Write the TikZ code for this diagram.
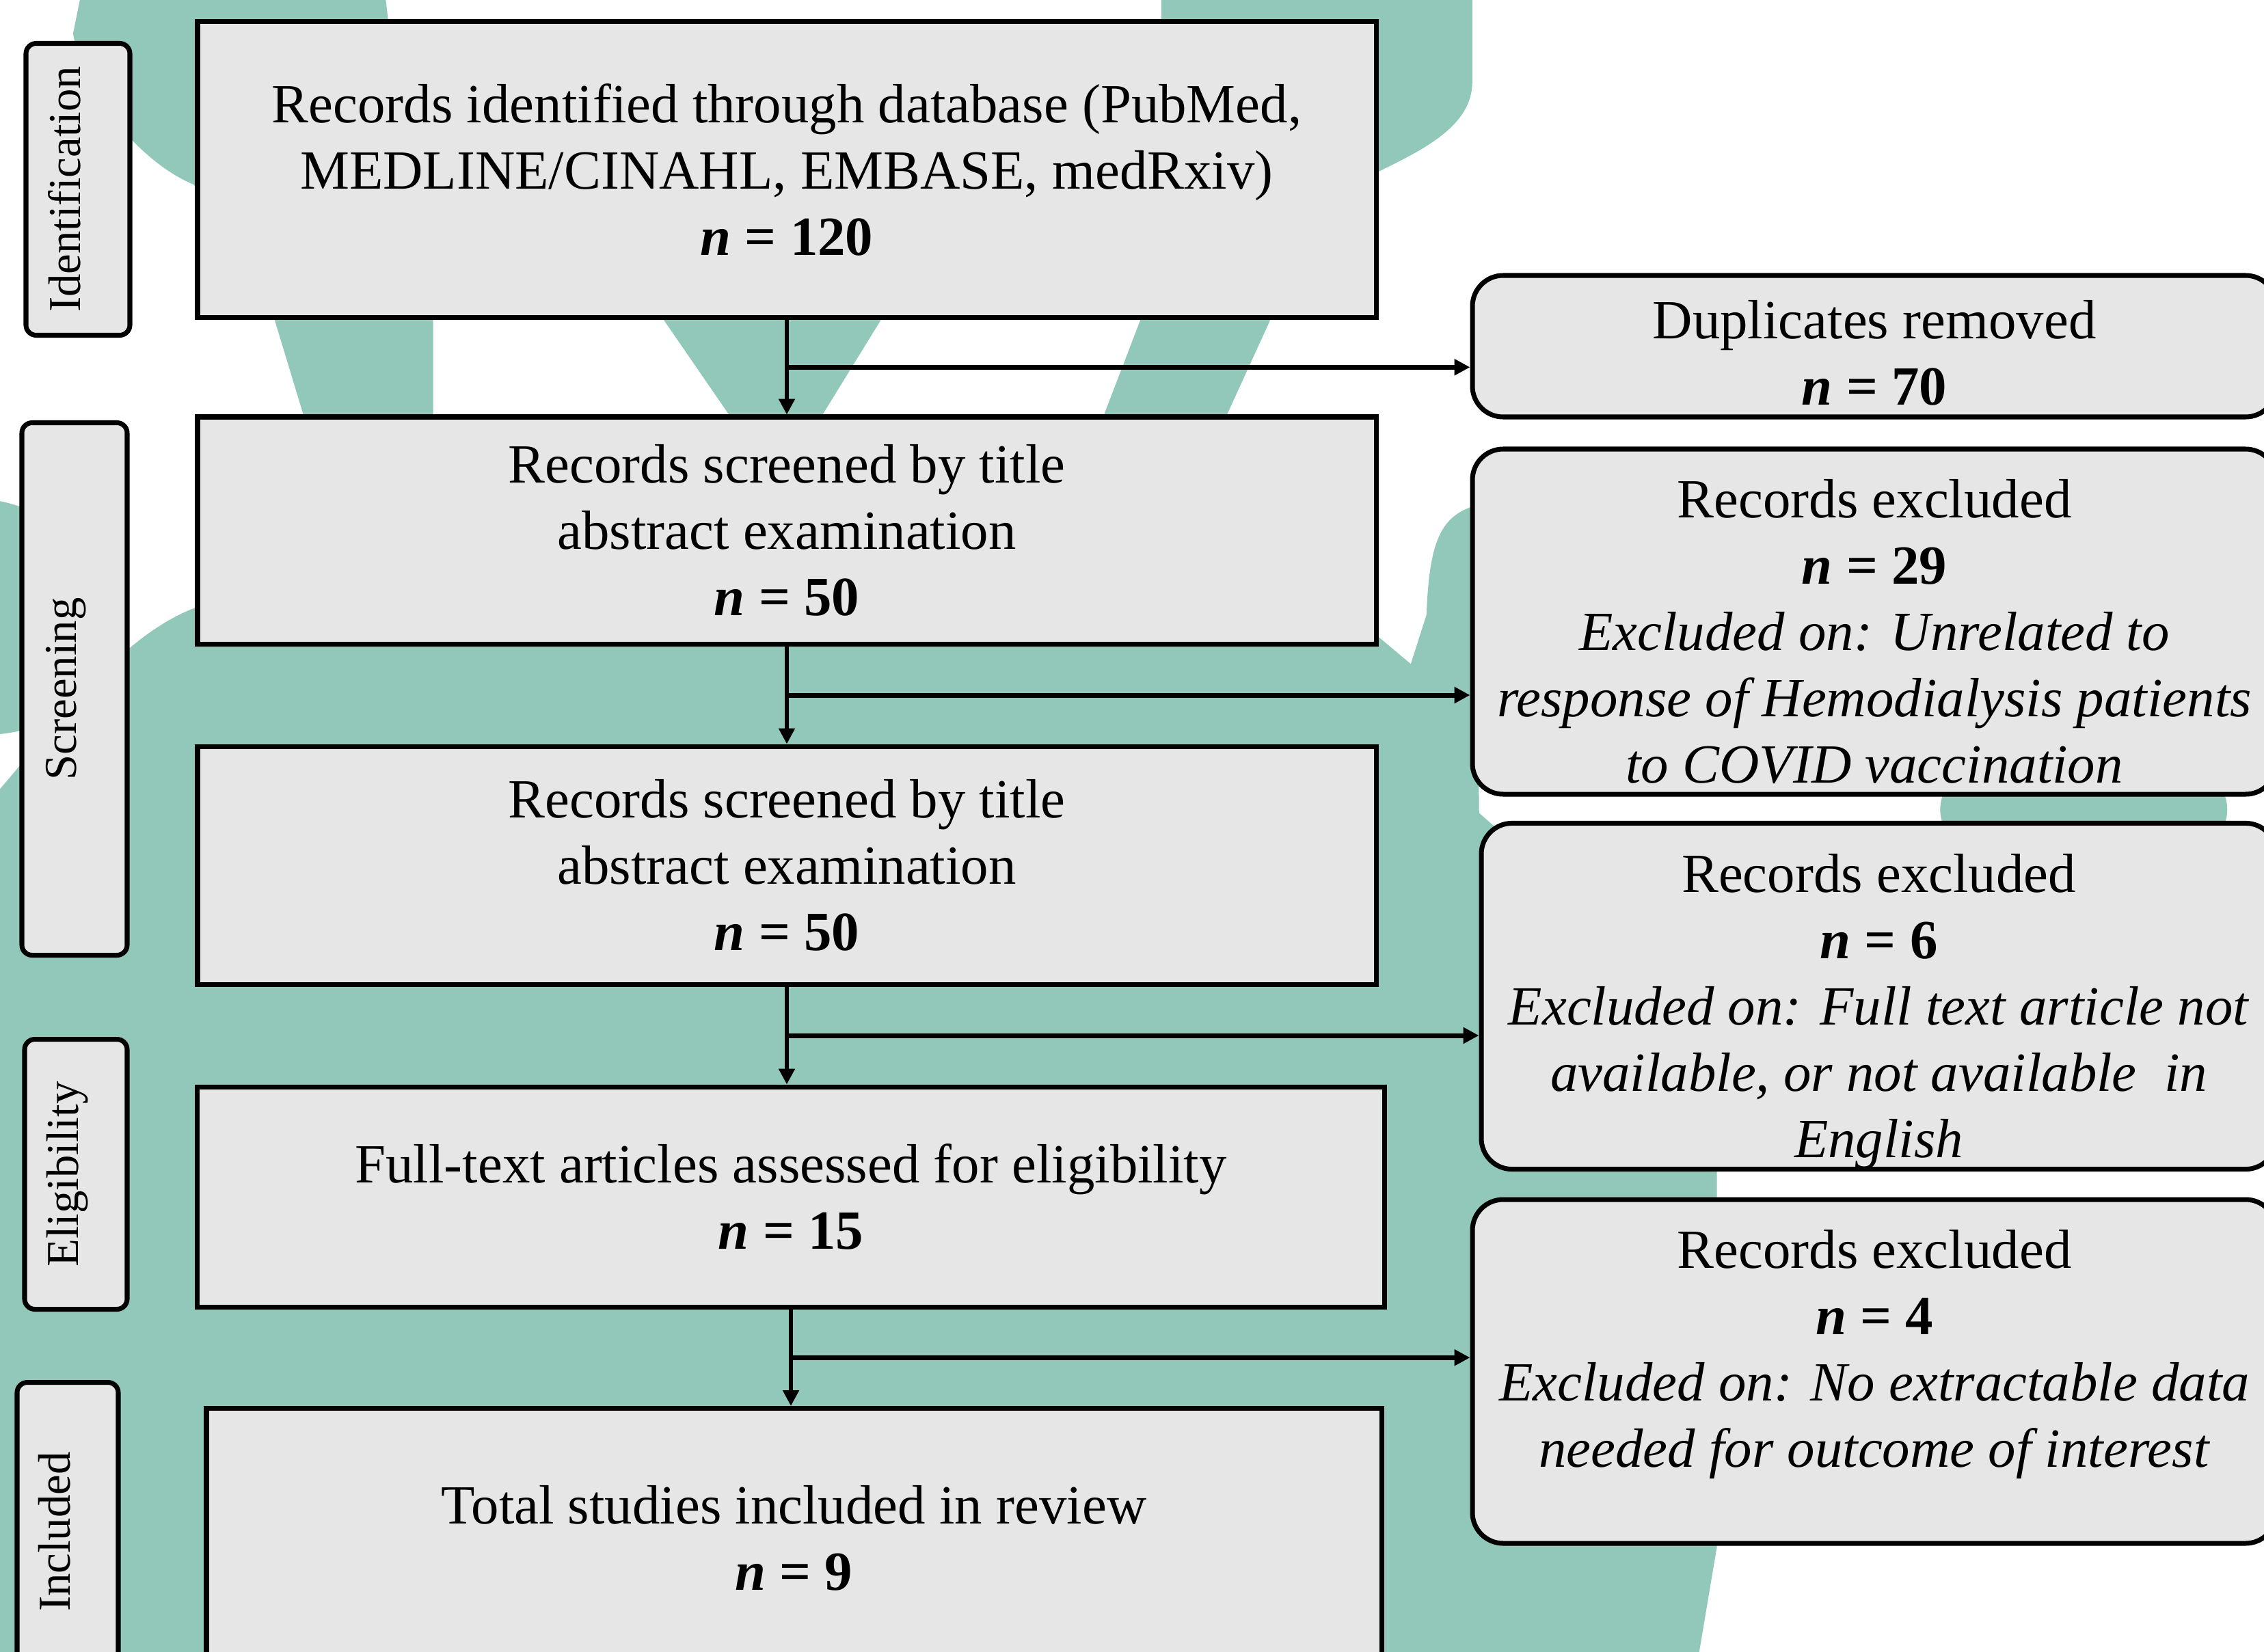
\documentclass[tikz,border=0pt]{standalone}
\usepackage{fontspec}
\setmainfont{Liberation Serif}
\usetikzlibrary{shapes}
\usetikzlibrary{arrows.meta}
\usetikzlibrary{calc,positioning}
\definecolor{boxgrey}{RGB}{230,230,230}
\definecolor{blobteal}{RGB}{145,200,186}

\begin{document}
\begin{tikzpicture}
	\tikzstyle{stage}=[fill=boxgrey, draw, line width=2pt, rectangle, text centered, align=center, font=\fontsize{23}{27.6}\selectfont]
	\tikzstyle{excl}=[stage, rounded corners=0.45cm, inner ysep=0pt]
	\tikzstyle{phase}=[fill=boxgrey, draw, line width=2pt, rounded corners=0.15cm, rotate=90, font=\fontsize{19}{22.8}\selectfont]
	\tikzstyle{flow}=[-{Triangle[length=6.5pt,width=6.5pt]}, line width=1.5pt]
	\tikzstyle{branch}=[-{Triangle[length=6.5pt,width=6.5pt]}, line width=2pt]

	\useasboundingbox (0,0) rectangle (33.12,-24.16);

	% background blob
	\begin{scope}
	\clip (0,0) rectangle (33.12,-24.16);
	\begin{scope}[x=0.01cm, y=-0.01cm]
	\fill[blobteal] (-60,1165) -- (0,1155) .. controls (90,1050) and (180,930) .. (285,890) -- (2015,930) -- (2065,972) -- (2088,900) .. controls (2092,790) and (2110,755) .. (2160,740) -- (2165,1190) -- (2513,1500) -- (2513,2265) -- (2470,2520) -- (-60,2520) -- cycle;
	\fill[blobteal] (150,-40) -- (560,-40) -- (600,300) -- (634,465) -- (634,800) -- (444,800) -- (444,607) -- (401,465) .. controls (350,330) .. (283,270) .. controls (200,235) and (120,130) .. (107,49) -- (125,-40) -- cycle;
	\fill[blobteal] (880,300) -- (1360,300) -- (1289,469) -- (1204,607) -- (1204,800) -- (1067,800) -- (1067,607) -- (972,469) -- cycle;
	\fill[blobteal] (1700,-40) -- (2155,-40) -- (2155,120) .. controls (2155,190) and (2070,225) .. (2000,260) -- (1859,469) -- (1796,607) -- (1790,800) -- (1610,800) -- (1616,607) -- (1669,469) -- (1700,300) -- cycle;
	\fill[blobteal] plot[smooth cycle, tension=0.5] coordinates {(-60,752) (60,752) (150,820) (170,950) (80,1053) (-60,1053)};
	\fill[blobteal] (3050,1185) ellipse [x radius=2.1cm, y radius=1.1cm];
	\end{scope}
	\end{scope}

	% phases
	\node[phase, minimum width=4.27cm, minimum height=1.52cm] (phId) at (1.14,-2.77) {Identification\rule[-0.4cm]{0pt}{0pt}};
	\node[phase, minimum width=7.79cm, minimum height=1.54cm] (phScr) at (1.09,-10.08) {Screening\rule[-0.4cm]{0pt}{0pt}};
	\node[phase, minimum width=3.95cm, minimum height=1.50cm] (phElig) at (1.11,-17.18) {Eligibility\rule[-0.4cm]{0pt}{0pt}};
	\node[phase, minimum width=4.37cm, minimum height=1.48cm] (phIncl) at (0.99,-22.41) {Included\rule[-0.4cm]{0pt}{0pt}};

	% main column
	\node[stage, minimum width=17.24cm, minimum height=4.33cm] (recId) at (11.51,-2.48) {Records identified through database (PubMed,\\ MEDLINE/CINAHL, EMBASE, medRxiv)\\ \textbf{\textit{n} = 120}};
	\node[stage, minimum width=17.24cm, minimum height=3.32cm] (scrA) at (11.51,-7.76) {Records screened by title\\ abstract examination\\ \textbf{\textit{n} = 50}};
	\node[stage, minimum width=17.24cm, minimum height=3.48cm] (scrB) at (11.51,-12.66) {Records screened by title\\ abstract examination\\ \textbf{\textit{n} = 50}};
	\node[stage, minimum width=17.37cm, minimum height=3.22cm] (fullTxt) at (11.57,-17.51) {Full-text articles assessed for eligibility\\ \textbf{\textit{n} = 15}};
	\node[stage, minimum width=17.19cm, minimum height=3.79cm] (incl) at (11.615,-22.50) {Total studies included in review\\ \textbf{\textit{n} = 9}};

	% side column
	\node[excl, minimum width=11.76cm, minimum height=2.07cm] (dup) at (27.42,-5.065) {\rule{0pt}{0.76cm}Duplicates removed\\ \textbf{\textit{n} = 70}};
	\node[excl, minimum width=11.76cm, minimum height=5.05cm] (exA) at (27.42,-9.095) {\rule{0pt}{0.85cm}Records excluded\\ \textbf{\textit{n} = 29}\\ \textit{Excluded on: Unrelated to}\\ \textit{response of Hemodialysis patients}\\ \textit{to COVID vaccination}};
	\node[excl, minimum width=11.63cm, minimum height=5.03cm] (exB) at (27.485,-14.575) {\rule{0pt}{1.01cm}Records excluded\\ \textbf{\textit{n} = 6}\\ \textit{Excluded on: Full text article not}\\ \textit{available, or not available~~in}\\ \textit{English}};
	\node[excl, minimum width=11.76cm, minimum height=5.03cm] (exC) at (27.42,-20.065) {Records excluded\\ \textbf{\textit{n} = 4}\\ \textit{Excluded on: No extractable data}\\ \textit{needed for outcome of interest}\rule[-0.68cm]{0pt}{0pt}};

	% arrows
	\coordinate (j1) at ($(recId.south)!0.5!(scrA.north)$);
	\coordinate (j2) at ($(scrA.south)!0.5!(scrB.north)$);
	\coordinate (j3) at ($(scrB.south)!0.5!(scrB.south |- fullTxt.north)$);
	\coordinate (j4) at ($(fullTxt.south)!0.5!(fullTxt.south |- incl.north)$);

	\draw[flow] (recId.south) -- (scrA.north);
	\draw[flow] (scrA.south) -- (scrB.north);
	\draw[flow] (scrB.south) -- (scrB.south |- fullTxt.north);
	\draw[flow] (fullTxt.south) -- (fullTxt.south |- incl.north);

	\draw[branch] (j1) -- (j1 -| dup.west);
	\draw[branch] (j2) -- (j2 -| exA.west);
	\draw[branch] (j3) -- (j3 -| exB.west);
	\draw[branch] (j4) -- (j4 -| exC.west);

\end{tikzpicture}
\end{document}
